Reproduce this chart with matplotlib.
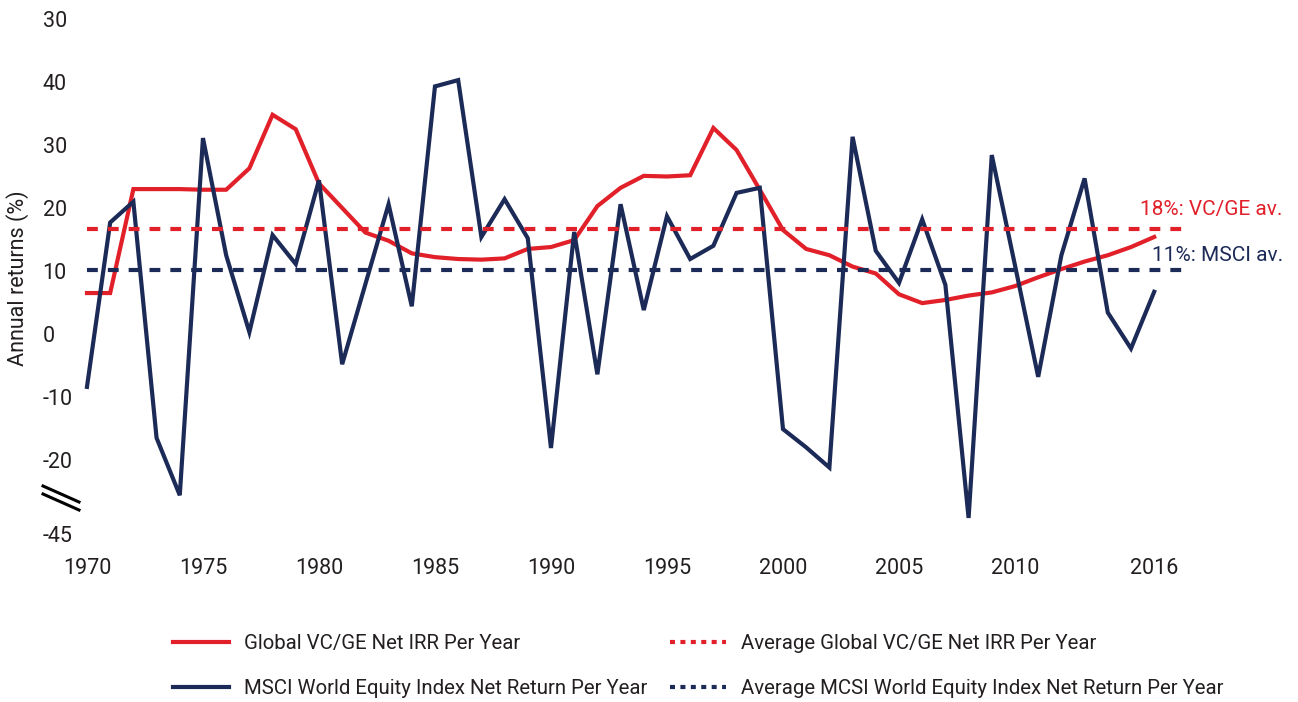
import matplotlib
matplotlib.use("Agg")
import matplotlib.pyplot as plt
from matplotlib.lines import Line2D

plt.rcParams['font.family'] = ['Roboto', 'DejaVu Sans']

# values (plotted position, % on the linear part of the axis)
years = list(range(1970, 2017))
vc_ge_irr = [6.5, 6.5, 23.0, 23.0, 23.0, 22.9, 22.9, 26.3, 34.8, 32.5,
             23.9, 20.0, 16.1, 14.8, 12.8, 12.2, 11.9, 11.8, 12.0, 13.5,
             13.8, 14.9, 20.3, 23.2, 25.1, 25.0, 25.2, 32.7, 29.2, 22.9,
             16.5, 13.5, 12.5, 10.7, 9.6, 6.3, 4.9, 5.4, 6.1, 6.6,
             7.6, 9.0, 10.3, 11.5, 12.5, 13.8, 15.4]
msci = [-8.4, 17.7, 21.0, -16.5, -25.6, 31.1, 12.5, 0.3, 15.7, 11.1,
        24.4, -4.8, 7.9, 20.6, 4.4, 39.3, 40.3, 15.4, 21.4, 15.2,
        -18.1, 16.2, -6.4, 20.6, 3.8, 18.7, 11.9, 14.0, 22.4, 23.2,
        -15.1, -18.0, -21.2, 31.3, 13.2, 8.1, 18.2, 7.8, -29.2, 28.4,
        10.9, -6.8, 12.5, 24.7, 3.4, -2.3, 6.7]
vc_ge_avg = 16.7
msci_avg = 10.1

ytick_vals = [50, 40, 30, 20, 10, 0, -10, -20, -31.7]
ytick_labels = ['30', '40', '30', '20', '10', '0', '-10', '-20', '-45']
xtick_vals = [1970, 1975, 1980, 1985, 1990, 1995, 2000, 2005, 2010, 2016]

RED = '#E1202A'
NAVY = '#1C2A57'
TXT = '#231F20'

fig = plt.figure(figsize=(12.98, 7.02), dpi=100)
ax = fig.add_axes([0.0670, 0.2308, 0.8483, 0.7493])

ax.plot(years, vc_ge_irr, color=RED, lw=3, solid_joinstyle='miter', clip_on=False)
ax.plot(years, msci, color=NAVY, lw=3, solid_joinstyle='miter', clip_on=False)
ax.axhline(vc_ge_avg, color=RED, lw=3, dashes=(2.6, 2.4))
ax.axhline(msci_avg, color=NAVY, lw=3, dashes=(2.6, 2.4))

ax.set_xlim(1970, 2017.46)
ax.set_ylim(-32.7, 50.8)
for s in ax.spines.values():
    s.set_visible(False)

ax.set_xticks(xtick_vals, [str(y) for y in xtick_vals])
ax.set_yticks(ytick_vals, ytick_labels)
ax.tick_params(axis='both', length=0, labelsize=15.5, labelcolor=TXT)
ax.tick_params(axis='x', pad=13)
ax.tick_params(axis='y', pad=32)
for lab in ax.get_yticklabels():
    lab.set_horizontalalignment('left')

# axis break marks
for dy in (0, 8):
    fig.add_artist(Line2D([43 / 1298, 79 / 1298],
                          [1 - (486 + dy) / 702, 1 - (502 + dy) / 702],
                          color='black', lw=2.2))

fig.text(18 / 1298, 1 - 278 / 702, 'Annual returns (%)', rotation=90,
         ha='center', va='center', fontsize=15.5, color=TXT)

ax.text(1.086, 19.8, '18%: VC/GE av.', transform=ax.get_yaxis_transform(),
        ha='right', va='center', fontsize=15, color=RED)
ax.text(1.086, 12.5, '11%: MSCI av.', transform=ax.get_yaxis_transform(),
        ha='right', va='center', fontsize=15, color=NAVY)

handles = [
    Line2D([], [], color=RED, lw=3),
    Line2D([], [], color=NAVY, lw=3),
    Line2D([], [], color=RED, lw=3, dashes=(1.2, 1.3)),
    Line2D([], [], color=NAVY, lw=3, dashes=(1.2, 1.3)),
]
labels = [
    'Global VC/GE Net IRR Per Year',
    'MSCI World Equity Index Net Return Per Year',
    'Average Global VC/GE Net IRR Per Year',
    'Average MCSI World Equity Index Net Return Per Year',
]
fig.legend(handles, labels, ncol=2, loc='center', bbox_to_anchor=(0.538, 0.051),
           frameon=False, fontsize=14.7, handlelength=2.75, handletextpad=0.73,
           columnspacing=1.1, labelspacing=1.25, labelcolor=TXT)

fig.savefig('out.png', dpi=100)
